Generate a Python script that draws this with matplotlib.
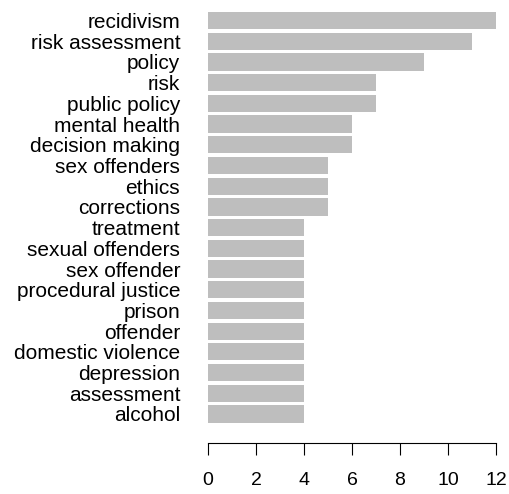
import matplotlib.pyplot as plt

# keyword counts, top to bottom as shown in the chart
keywords = ["recidivism", "risk assessment", "policy", "risk", "public policy",
            "mental health", "decision making", "sex offenders", "ethics",
            "corrections", "treatment", "sexual offenders", "sex offender",
            "procedural justice", "prison", "offender", "domestic violence",
            "depression", "assessment", "alcohol"]
counts = [12, 11, 9, 7, 7, 6, 6, 5, 5, 5, 4, 4, 4, 4, 4, 4, 4, 4, 4, 4]
xticks = [0, 2, 4, 6, 8, 10, 12]

plt.rcParams['font.family'] = ['Liberation Sans', 'DejaVu Sans']

fig = plt.figure(figsize=(5.1, 4.94), dpi=100)
ax = fig.add_axes([208/510, 0.1368, 288/510, 0.8469])

# bottom bar first
ypos = list(range(len(keywords)))
ax.barh(ypos, counts[::-1], height=0.833, color="#bebebe")

ax.set_xlim(0, 12)
ax.set_ylim(-0.6, 19.6)
ax.set_yticks(ypos)
ax.set_yticklabels(keywords[::-1], fontsize=15)
ax.tick_params(axis='y', length=0, pad=20)

ax.set_xticks(xticks)
ax.tick_params(axis='x', labelsize=14, length=8.5, width=0.8, pad=12)
for s in ['top', 'right', 'left']:
    ax.spines[s].set_visible(False)
ax.spines['bottom'].set_position(('outward', 12))
ax.spines['bottom'].set_bounds(0, 12)

fig.savefig("out.png", dpi=100)
